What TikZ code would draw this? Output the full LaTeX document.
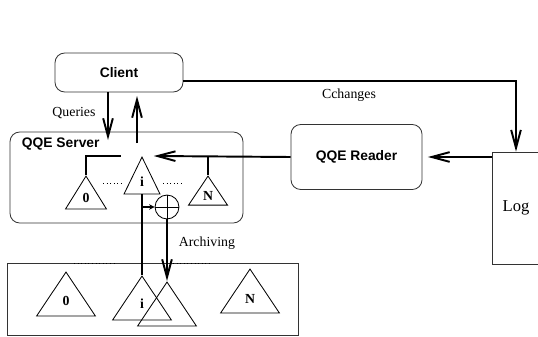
\documentclass[tikz,border=0pt]{standalone}
\usepackage{fontspec}
\setmainfont{Liberation Serif}
\setsansfont{Liberation Sans}
\usetikzlibrary{arrows.meta,shapes.geometric}

\begin{document}
\begin{tikzpicture}[x=0.0254cm, y=-0.0254cm,
    box/.style={draw=black!80, line width=0.6pt, rounded corners=7pt, font=\sffamily\bfseries},
    tri/.style={draw, line width=0.6pt, isosceles triangle, isosceles triangle stretches, shape border rotate=90, inner sep=0pt, anchor=apex, font=\bfseries},
    flow/.style={-{Straight Barb[length=13pt, width=7pt]}, line width=1.4pt},
    link/.style={line width=1.4pt},
  ]
  \useasboundingbox (0,0) rectangle (538,337);
  \node[box, minimum width=92.5pt, minimum height=28.2pt] (client) at (119,72.5) {Client};
  \node[box, minimum width=168.4pt, minimum height=65.8pt] (server) at (126.5,177.5) {};
  \node[anchor=west, font=\sffamily\bfseries] (srvname) at (17,144) {QQE Server};
  \node[box, minimum width=94.7pt, minimum height=47pt] (reader) at (356.5,157) {QQE Reader};
  \node[draw=black!80, line width=0.6pt, minimum width=34.7pt, minimum height=80.9pt, font=\fontsize{12}{14}\selectfont] (log) at (516,208) {Log};
  \node[draw=black!80, line width=0.6pt, minimum width=210.3pt, minimum height=52pt] (archive) at (152.5,299.5) {};

  % server side trees
  \node[tri, minimum height=23.8pt, minimum width=29.6pt] (s0) at (86,175) {0};
  \node[tri, minimum height=26.7pt, minimum width=26pt] (si) at (142,156) {i};
  \node[tri, minimum height=21pt, minimum width=28.2pt] (sN) at (208,175) {N};
  \draw[dotted, line width=0.6pt] (103,183) -- (123,183) (163,183) -- (183,183);
  \node[draw, circle, minimum size=17.3pt, line width=0.6pt,
    path picture={\draw[line width=0.6pt] (path picture bounding box.north) -- (path picture bounding box.south)
      (path picture bounding box.west) -- (path picture bounding box.east);}] (merge) at (167,207) {};

  % archived trees
  \node[tri, minimum height=31.8pt, minimum width=42.6pt] (b0) at (66,271) {0};
  \node[tri, minimum height=31.8pt, minimum width=42.6pt] (bi) at (142,275) {i};
  \node[tri, minimum height=31.8pt, minimum width=42.6pt] (bnew) at (167,281) {};
  \node[tri, minimum height=31.8pt, minimum width=42.6pt] (bN) at (250,268) {N};
  \draw[dotted, line width=0.6pt] (74,263.5) -- (117,263.5) (173,263.5) -- (212,263.5);

  \coordinate (qin) at (108,140);
  \coordinate (rout) at (137,143);
  \draw[flow] (client.south -| qin) -- (qin);
  \draw[flow] (rout) -- (rout |- 0,96);
  \node at (74,113) {Queries};

  \draw[flow] ([yshift=-6.1pt]client.east) -| (log.north);
  \node at (349,95) {Cchanges};
  \draw[flow] (log.west |- reader.east) -- ([xshift=4pt]reader.east);
  \draw[flow] (reader.west) -- ([xshift=8.5pt]si.apex);
  \draw[link] (sN.apex) -- (sN.apex |- reader.west);
  \draw[link] (s0.apex) |- ([xshift=-15pt]si.apex);

  \draw[link] (si.lower side) -- (bi.apex);
  \draw[-{Stealth[length=4pt, width=4pt]}, line width=1pt] (si.lower side |- merge.west) -- (merge.west);
  \draw[flow] (merge.south) -- (bnew.apex);
  \node[anchor=west] at (174,243) {Archiving};
\end{tikzpicture}
\end{document}
